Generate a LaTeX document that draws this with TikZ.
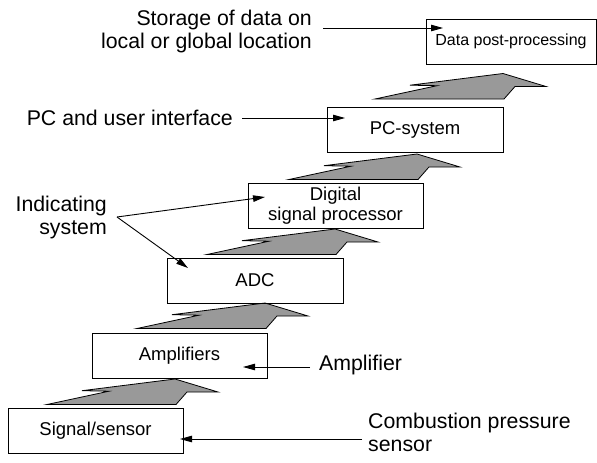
\documentclass[tikz,border=0pt]{standalone}
\usepackage{fontspec}
\setmainfont{Liberation Sans}
\usetikzlibrary{arrows.meta}
\definecolor{stepgray}{RGB}{153,153,153}
\begin{document}
\begin{tikzpicture}[x=1pt,y=-1pt,
  box/.style={draw, line width=1pt, inner sep=0pt, minimum height=45pt,
    font=\fontsize{18.5}{20}\selectfont, align=center},
  lbl/.style={inner sep=0pt, font=\fontsize{21.3}{23}\selectfont},
  conn/.style={line width=0.9pt, -{Triangle[length=12pt,width=6.5pt]}},
  steparrow/.pic={\draw[fill=stepgray, line width=0.8pt, line join=miter]
    (0,0) -- (129,0) -- (140,-12.5) -- (171,-12.5) -- (128,-25.5)
    -- (35,-13.8) -- (62,-13.3) -- cycle;}
]
\useasboundingbox (0,0) rectangle (597,463);

% grey step arrows
\pic at (47,404.5) {steparrow};
\pic at (137,328.5) {steparrow};
\pic at (207,254.5) {steparrow};
\pic at (289,179.5) {steparrow};
\pic at (375,99) {steparrow};

% boxes
\node[box, minimum width=175pt] (sensor) at (95.5,430.5) {Signal/sensor};
\node[box, minimum width=175pt] (amps) at (179.5,355.5) {Amplifiers};
\node[box, minimum width=176pt] (adc) at (255,280.5) {ADC};
\node[box, minimum width=175pt] (dsp) at (335.5,205.5) {Digital\\signal processor};
\node[box, minimum width=176pt] (pc) at (415,129.5) {PC-system};
\node[box, minimum width=170pt, font=\fontsize{16}{18}\selectfont] (post) at (511,41.5) {Data post-processing};

% arrow tips inside boxes
\coordinate (storetip) at (443,28);
\coordinate (pctip) at (345,118);
\coordinate (dsptip) at (265,197);
\coordinate (adctip) at (188,268);
\coordinate (amptip) at (243,367);
\coordinate (sensortip) at (180,439);

% labels
\node[lbl, anchor=east, align=right] (storage) at (312,31) {Storage of data on\\local or global location};
\node[lbl, anchor=east] (pcui) at (233,117.5) {PC and user interface};
\node[lbl, anchor=east, align=right] (indic) at (107,217) {Indicating\\system};
\node[lbl, anchor=west] (amplbl) at (319,365) {Amplifier};
\node[lbl, anchor=west, align=left] (comb) at (368,432) {Combustion pressure\\sensor};

\coordinate (storestart) at ([xshift=11pt]storage.east);
\coordinate (pcstart) at ([xshift=9pt]pcui.east);
\coordinate (indstart) at ([xshift=10pt]indic.east);
\coordinate (ampstart) at ([xshift=-9pt]amplbl.west);
\coordinate (combstart) at ([xshift=-6pt]comb.west);

% connectors
\draw[conn] (storestart |- storetip) -- (storetip);
\draw[conn] (pcstart |- pctip) -- (pctip);
\draw[conn] (indstart) -- (dsptip);
\draw[conn] (indstart) -- (adctip);
\draw[conn] (ampstart |- amptip) -- (amptip);
\draw[conn] (combstart |- sensortip) -- (sensortip);
\end{tikzpicture}
\end{document}
